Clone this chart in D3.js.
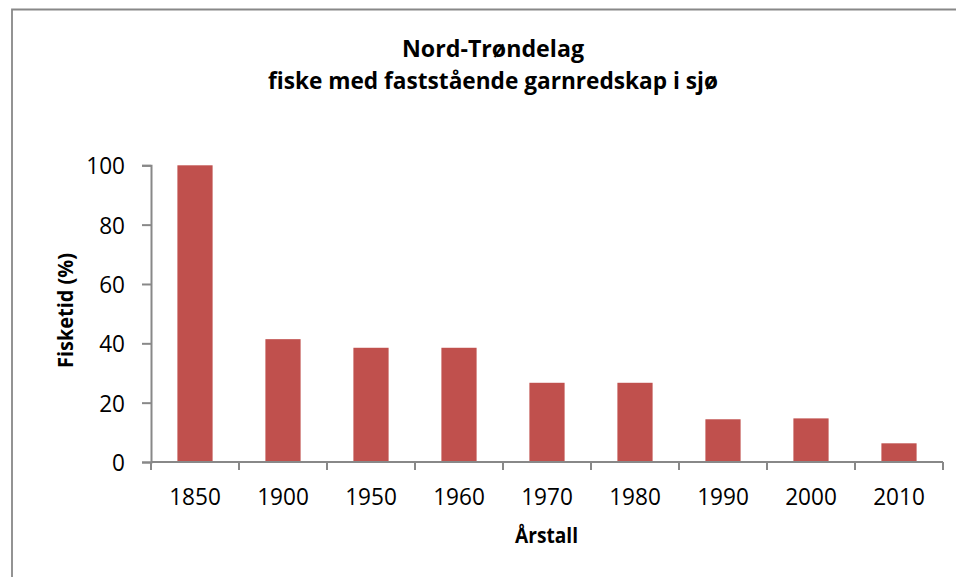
<!DOCTYPE html>
<html>
<head>
<meta charset="utf-8">
<script src="https://cdn.jsdelivr.net/npm/d3@7"></script>
<style>
  body { margin: 0; background: #fff; }
  text { font-family: "Open Sans", sans-serif; fill: #000; }
</style>
</head>
<body>
<script>
const years = ["1850", "1900", "1950", "1960", "1970", "1980", "1990", "2000", "2010"]
const fisketid = [100, 41.4, 38.5, 38.5, 26.7, 26.7, 14.4, 14.7, 6.3]
const yTicks = [0, 20, 40, 60, 80, 100]
const titleLines = ["Nord-Trøndelag", "fiske med faststående garnredskap i sjø"]

const width = 956
const height = 577
const margin = {top: 165.3, right: 13, bottom: 115, left: 151}

// the source font is narrow, so squeeze text to the measured widths
const digitW = 12.9
const titleW = [182, 450]

const data = years.map((y, i) => ({year: y, value: fisketid[i]}))

const x = d3.scaleBand()
    .domain(years)
    .range([margin.left, width - margin.right])
    .paddingInner(0.6)
    .paddingOuter(0.3)

const y = d3.scaleLinear()
    .domain([0, 100])
    .range([height - margin.bottom, margin.top])

const svg = d3.select("body").append("svg")
    .attr("width", width)
    .attr("height", height)

// chart frame
svg.append("path")
    .attr("d", `M12,${height} V9.5 H${width}`)
    .attr("fill", "none")
    .attr("stroke", "#888")
    .attr("stroke-width", 1.8)

// title
svg.append("g")
    .attr("text-anchor", "middle")
    .attr("font-weight", "bold")
    .attr("font-size", 24)
  .selectAll("text")
  .data(titleLines)
  .join("text")
    .attr("x", 493)
    .attr("y", (d, i) => 57 + i * 31.5)
    .attr("textLength", (d, i) => titleW[i])
    .attr("lengthAdjust", "spacingAndGlyphs")
    .text(d => d)

// bars
svg.append("g")
    .attr("fill", "#C0504D")
  .selectAll("rect")
  .data(data)
  .join("rect")
    .attr("x", d => x(d.year))
    .attr("y", d => y(d.value))
    .attr("width", x.bandwidth())
    .attr("height", d => y(0) - y(d.value))

// y axis
const yAxis = svg.append("g")
    .attr("transform", `translate(${margin.left},0)`)
    .call(d3.axisLeft(y).tickValues(yTicks).tickSize(9).tickPadding(26))
yAxis.select(".domain").attr("stroke", "#888").attr("stroke-width", 2)
yAxis.selectAll(".tick line").attr("x2", -9).attr("stroke", "#888").attr("stroke-width", 2)
yAxis.selectAll(".tick text")
    .attr("font-size", 24)
    .attr("font-family", "Open Sans, sans-serif")
    .attr("x", -26)
    .attr("dy", "0.36em")
    .attr("textLength", d => String(d).length * digitW)
    .attr("lengthAdjust", "spacingAndGlyphs")

// x axis: category labels centred, ticks at the category boundaries
const xAxis = svg.append("g")
    .attr("transform", `translate(0,${y(0)})`)
    .call(d3.axisBottom(x).tickSize(0))
xAxis.select(".domain").remove()
xAxis.selectAll(".tick text")
    .attr("font-size", 24)
    .attr("font-family", "Open Sans, sans-serif")
    .attr("y", 43)
    .attr("dy", 0)
    .attr("textLength", d => d.length * digitW)
    .attr("lengthAdjust", "spacingAndGlyphs")

const step = x.step()
const bounds = d3.range(years.length + 1).map(i => x.range()[0] + i * step)
xAxis.append("line")
    .attr("x1", x.range()[0])
    .attr("x2", x.range()[1])
    .attr("stroke", "#888")
    .attr("stroke-width", 2)
xAxis.selectAll(".bound")
  .data(bounds)
  .join("line")
    .attr("class", "bound")
    .attr("x1", d => d)
    .attr("x2", d => d)
    .attr("y1", 0)
    .attr("y2", 8)
    .attr("stroke", "#888")
    .attr("stroke-width", 2)

// axis titles
svg.append("text")
    .attr("x", 546.5)
    .attr("y", 542.7)
    .attr("text-anchor", "middle")
    .attr("font-weight", "bold")
    .attr("font-size", 22)
    .attr("textLength", 63)
    .attr("lengthAdjust", "spacingAndGlyphs")
    .text("Årstall")

svg.append("text")
    .attr("transform", `translate(73,310.5) rotate(-90)`)
    .attr("text-anchor", "middle")
    .attr("font-weight", "bold")
    .attr("font-size", 22)
    .attr("textLength", 115)
    .attr("lengthAdjust", "spacingAndGlyphs")
    .text("Fisketid (%)")
</script>
</body>
</html>
